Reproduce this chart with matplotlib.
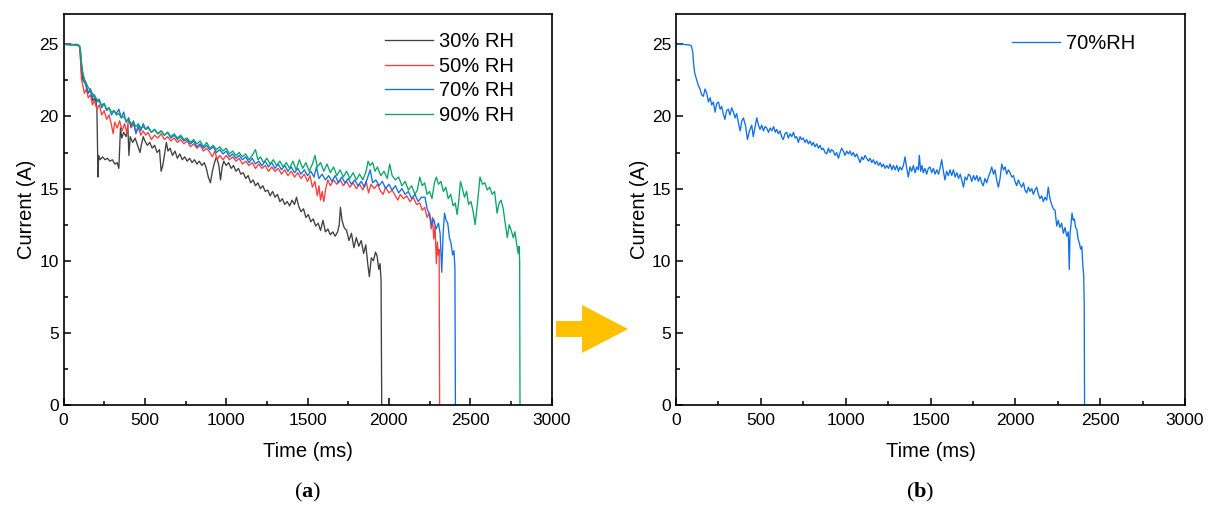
import matplotlib
matplotlib.use("Agg")
import matplotlib.pyplot as plt
from matplotlib.patches import Polygon
from matplotlib.ticker import MultipleLocator

plt.rcParams['font.family'] = ['Liberation Sans', 'DejaVu Sans']
plt.rcParams['mathtext.fontset'] = 'custom'
plt.rcParams['mathtext.rm'] = 'Liberation Serif'
plt.rcParams['mathtext.bf'] = 'Liberation Serif:bold'

### current vs time
t_30 = [0, 40, 80, 98, 104, 110, 120, 135, 150, 165, 180, 195, 205, 212, 216, 225, 240, 255, 270, 285,
        300, 315, 330, 340, 350, 358, 370, 385, 395, 402, 410, 425, 440, 455, 470, 478, 490, 500, 515, 530,
        545, 560, 575, 590, 600, 610, 620, 632, 642, 655, 670, 685, 700, 715, 730, 745, 760, 775, 790, 805,
        820, 835, 850, 865, 878, 890, 903, 915, 928, 940, 955, 965, 975, 985, 1000, 1015, 1030, 1045, 1060, 1075,
        1090, 1105, 1120, 1135, 1150, 1165, 1180, 1195, 1210, 1225, 1240, 1255, 1270, 1285, 1300, 1315, 1330, 1345,
        1360, 1375, 1390, 1405, 1420, 1432, 1445, 1460, 1475, 1490, 1505, 1520, 1535, 1550, 1565, 1580, 1595, 1610,
        1625, 1640, 1655, 1670, 1685, 1695, 1702, 1712, 1725, 1740, 1755, 1770, 1785, 1800, 1815, 1830, 1845, 1858,
        1870, 1880, 1892, 1905, 1918, 1928, 1938, 1946, 1952, 1956]
i_30 = [25.0, 24.95, 25.0, 24.9, 24.2, 23.1, 22.5, 22.3, 21.6, 21.9, 21.1, 21.3, 20.6, 15.8, 17.3, 17.0, 17.2, 17.0, 17.1, 16.9,
        17.0, 16.7, 16.8, 16.4, 19.2, 18.5, 18.9, 18.6, 19.4, 17.3, 18.6, 18.2, 18.5, 18.0, 17.5, 18.0, 18.6, 18.3, 18.0, 18.2,
        17.8, 18.0, 17.5, 17.7, 16.2, 16.6, 17.3, 18.2, 17.6, 17.8, 17.3, 17.6, 17.1, 17.4, 17.0, 17.2, 16.9, 17.1, 16.8, 17.0,
        16.7, 16.9, 16.6, 16.8, 16.4, 15.8, 15.4, 16.2, 16.8, 17.2, 16.6, 15.6, 16.5, 16.9, 16.6, 16.8, 16.4, 16.6, 16.2, 16.4,
        16.0, 16.1, 15.7, 15.9, 15.4, 15.6, 15.2, 15.4, 15.0, 15.2, 14.8, 14.9, 14.5, 14.8, 14.4, 14.6, 14.1, 14.3,
        13.9, 14.1, 13.8, 14.2, 13.9, 14.4, 13.8, 13.4, 13.6, 13.0, 13.2, 12.7, 12.9, 12.4, 12.6, 12.1, 12.8, 12.0,
        12.2, 11.8, 12.0, 11.7, 12.0, 12.5, 13.7, 12.8, 12.3, 12.1, 11.4, 11.9, 10.9, 11.6, 11.0, 11.4, 10.5, 11.1,
        9.8, 8.9, 10.2, 10.0, 10.6, 10.3, 9.4, 9.8, 8.6, 0.0]

t_50 = [0, 40, 80, 98, 104, 110, 118, 128, 140, 152, 165, 178, 190, 205, 220, 235, 250, 265, 280, 295,
        305, 315, 330, 345, 360, 375, 390, 400, 415, 430, 445, 460, 475, 490, 505, 520, 540, 560, 580, 600,
        620, 640, 660, 680, 700, 720, 740, 760, 780, 800, 820, 840, 860, 880, 900, 915, 930, 945, 960, 980,
        1000, 1020, 1040, 1060, 1080, 1100, 1120, 1140, 1160, 1180, 1200, 1220, 1240, 1260, 1280, 1300, 1320, 1340,
        1360, 1380, 1400, 1420, 1440, 1460, 1480, 1500, 1515, 1530, 1545, 1560, 1570, 1580, 1590, 1600, 1612, 1625,
        1640, 1660, 1680, 1700, 1720, 1740, 1760, 1780, 1800, 1820, 1840, 1860, 1875, 1890, 1910, 1930, 1950, 1965,
        1980, 2000, 2020, 2040, 2055, 2070, 2090, 2110, 2130, 2150, 2170, 2190, 2205, 2220, 2235, 2250, 2260, 2268,
        2276, 2284, 2292, 2298, 2304, 2309, 2312]
i_50 = [25.0, 25.0, 24.95, 24.85, 24.0, 22.6, 22.2, 21.6, 21.9, 21.3, 21.5, 20.8, 21.1, 20.5, 20.8, 20.1, 20.4, 19.8, 20.1, 19.4,
        18.8, 19.6, 19.2, 19.7, 19.0, 19.5, 18.8, 19.9, 19.2, 19.5, 18.9, 19.2, 18.7, 19.0, 18.7, 18.9, 18.4, 18.7, 18.5, 18.8,
        18.4, 18.6, 18.3, 18.5, 18.2, 18.4, 18.1, 18.3, 17.9, 18.1, 17.8, 18.0, 17.6, 17.8, 17.5, 17.2, 17.6, 17.0, 17.3, 17.0,
        17.3, 17.0, 17.2, 16.9, 17.1, 16.7, 16.9, 16.6, 16.8, 16.4, 16.7, 16.4, 16.6, 16.2, 16.5, 16.2, 16.4, 16.0,
        16.3, 15.9, 16.2, 15.8, 16.1, 15.7, 16.0, 15.5, 15.9, 15.1, 15.5, 14.5, 15.2, 14.2, 14.8, 14.1, 15.0, 15.6,
        15.2, 15.6, 15.3, 15.6, 15.2, 15.5, 15.1, 15.4, 15.0, 15.3, 14.9, 15.5, 14.7, 15.3, 15.0, 15.3, 14.8, 14.6,
        15.1, 14.7, 14.9, 14.5, 14.2, 14.6, 14.3, 14.5, 14.1, 14.4, 13.9, 14.0, 13.5, 13.7, 13.0, 13.3, 12.2, 13.0,
        11.5, 12.4, 9.8, 11.3, 10.4, 10.8, 0.0]

t_70 = [0, 40, 80, 98, 104, 110, 118, 128, 140, 152, 165, 178, 190, 205, 220, 235, 250, 265, 280, 295,
        310, 325, 340, 355, 370, 385, 400, 415, 430, 445, 460, 475, 490, 505, 520, 540, 560, 580, 600, 620,
        640, 660, 680, 700, 720, 740, 760, 780, 800, 820, 840, 860, 880, 900, 920, 940, 960, 980, 1000, 1020,
        1040, 1060, 1080, 1100, 1120, 1140, 1160, 1180, 1200, 1220, 1240, 1260, 1280, 1300, 1320, 1340, 1360, 1380,
        1400, 1420, 1440, 1460, 1480, 1500, 1520, 1540, 1555, 1570, 1590, 1610, 1630, 1650, 1670, 1690, 1710, 1730,
        1750, 1770, 1790, 1810, 1830, 1850, 1870, 1885, 1900, 1920, 1940, 1960, 1980, 2000, 2020, 2040, 2060, 2080,
        2100, 2120, 2140, 2160, 2180, 2200, 2222, 2235, 2250, 2262, 2275, 2290, 2305, 2315, 2325, 2333, 2342, 2352,
        2362, 2372, 2382, 2392, 2400, 2406, 2409]
i_70 = [25.0, 25.0, 24.95, 24.9, 24.5, 23.6, 22.9, 22.4, 22.1, 21.6, 21.9, 21.3, 21.5, 21.0, 21.2, 20.6, 20.9, 20.4, 20.6, 20.1,
        20.4, 20.2, 20.5, 19.9, 20.3, 19.6, 19.9, 19.3, 19.7, 18.8, 19.4, 19.0, 19.5, 19.1, 19.3, 18.9, 19.1, 18.8, 19.0, 18.7,
        18.9, 18.5, 18.7, 18.4, 18.6, 18.3, 18.4, 18.1, 18.3, 17.9, 18.1, 17.8, 18.0, 17.7, 17.9, 17.5, 17.7, 17.4, 17.6, 17.2,
        17.4, 17.1, 17.3, 17.0, 17.2, 16.8, 17.1, 16.7, 16.9, 16.6, 16.9, 16.5, 16.8, 16.4, 16.7, 16.3, 16.6, 16.2,
        16.5, 16.1, 16.4, 16.0, 16.3, 15.9, 16.2, 15.8, 16.5, 15.7, 16.0, 15.6, 15.9, 15.5, 15.9, 15.4, 15.8, 15.4,
        15.7, 15.3, 15.6, 15.2, 15.5, 15.1, 15.8, 16.3, 15.4, 15.6, 15.2, 15.5, 15.0, 15.3, 14.9, 15.2, 14.7, 15.0,
        14.6, 14.8, 14.3, 14.6, 14.1, 14.4, 14.4, 13.6, 13.2, 12.5, 12.9, 12.2, 12.6, 11.9, 9.2, 11.8, 13.3, 12.8,
        12.6, 11.6, 11.2, 10.4, 10.7, 9.5, 0.0]

t_90 = [0, 40, 80, 98, 104, 110, 118, 128, 140, 152, 165, 178, 190, 205, 220, 235, 250, 265, 280, 295,
        310, 325, 340, 355, 370, 385, 400, 415, 430, 445, 460, 475, 490, 505, 520, 540, 560, 580, 600, 620,
        640, 660, 680, 700, 720, 740, 760, 780, 800, 820, 840, 860, 880, 900, 920, 940, 960, 980, 1000, 1020,
        1040, 1060, 1080, 1100, 1120, 1140, 1160, 1180, 1195, 1210, 1230, 1250, 1270, 1290, 1310, 1330, 1350, 1370,
        1390, 1410, 1430, 1450, 1470, 1490, 1510, 1530, 1546, 1560, 1580, 1600, 1620, 1640, 1660, 1680, 1700, 1720,
        1740, 1760, 1780, 1800, 1820, 1840, 1860, 1872, 1884, 1900, 1915, 1930, 1950, 1970, 1990, 2005, 2020, 2040,
        2060, 2080, 2100, 2120, 2140, 2160, 2175, 2190, 2205, 2220, 2235, 2250, 2265, 2280, 2292, 2305, 2320, 2335,
        2350, 2365, 2380, 2395, 2408, 2420, 2430, 2440, 2452, 2465, 2478, 2490, 2505, 2518, 2530, 2545, 2560, 2575,
        2590, 2605, 2620, 2635, 2650, 2665, 2678, 2690, 2703, 2715, 2728, 2740, 2752, 2765, 2775, 2785, 2795, 2800,
        2804, 2806]
i_90 = [25.0, 25.0, 24.95, 24.9, 24.6, 23.8, 23.1, 22.6, 22.3, 22.0, 21.8, 21.6, 21.4, 21.2, 21.0, 20.8, 20.9, 20.5, 20.6, 20.3,
        20.4, 20.1, 20.2, 19.9, 20.0, 19.7, 19.8, 19.5, 19.6, 19.3, 19.5, 19.2, 19.3, 19.1, 19.2, 18.9, 19.1, 18.8, 19.0, 18.7,
        18.9, 18.6, 18.8, 18.5, 18.7, 18.4, 18.5, 18.2, 18.4, 18.1, 18.3, 17.9, 18.2, 17.8, 18.0, 17.7, 17.9, 17.6, 17.8, 17.4,
        17.6, 17.3, 17.5, 17.2, 17.4, 17.0, 17.3, 17.7, 17.0, 17.2, 16.8, 17.1, 16.7, 17.0, 16.6, 16.9, 16.5, 16.8,
        16.4, 16.9, 16.3, 17.0, 16.4, 16.8, 16.2, 16.7, 17.3, 16.5, 16.8, 16.2, 16.7, 16.1, 16.5, 15.9, 16.3, 15.8,
        16.2, 15.7, 16.1, 15.6, 16.0, 15.6, 16.2, 16.9, 16.6, 16.8, 16.2, 16.5, 15.9, 16.2, 15.7, 16.7, 15.9, 15.6,
        15.8, 15.2, 15.5, 14.9, 15.2, 14.6, 14.9, 15.8, 15.2, 15.4, 14.6, 14.8, 14.3, 15.4, 15.8, 15.3, 15.5, 14.8,
        15.1, 14.3, 14.6, 13.8, 14.0, 13.2, 14.2, 15.5, 15.0, 14.4, 14.8, 13.9, 14.1, 13.4, 12.5, 14.0, 15.8, 15.3,
        15.4, 14.9, 15.1, 14.6, 14.8, 13.3, 14.0, 14.2, 13.6, 12.6, 11.6, 12.5, 12.1, 11.6, 12.0, 11.2, 10.5, 11.0,
        10.0, 0.0]

# panel (b): 70% RH on its own
t_b = [0, 40, 80, 90, 98, 104, 110, 120, 130, 141, 151, 161, 171, 181, 191, 201, 210, 220, 230, 240,
       250, 260, 269, 278, 288, 298, 308, 318, 328, 338, 348, 357, 367, 378, 388, 397, 409, 421, 433, 446,
       455, 466, 476, 486, 495, 505, 515, 525, 534, 545, 555, 565, 575, 585, 593, 603, 613, 622, 632, 642,
       652, 662, 672, 682, 692, 702, 711, 721, 731, 740, 750, 760, 770, 780, 790, 800, 809, 819, 829, 839,
       849, 858, 868, 878, 888, 898, 908, 917, 927, 937, 947, 957, 967, 976, 986, 996, 1006, 1016, 1026, 1035,
       1045, 1055, 1065, 1075, 1085, 1095, 1104, 1114, 1124, 1134, 1144, 1154, 1163, 1173, 1183, 1193, 1203, 1213,
       1222, 1232, 1242, 1252, 1262, 1272, 1281, 1291, 1301, 1311, 1320, 1330, 1340, 1350, 1360, 1369, 1379, 1389,
       1399, 1409, 1419, 1428, 1434, 1442, 1450, 1457, 1467, 1477, 1487, 1497, 1507, 1517, 1527, 1537, 1547, 1556,
       1566, 1576, 1585, 1595, 1605, 1615, 1625, 1635, 1645, 1655, 1665, 1675, 1684, 1694, 1704, 1714, 1724, 1733,
       1743, 1753, 1763, 1773, 1782, 1792, 1802, 1811, 1821, 1831, 1841, 1851, 1861, 1871, 1880, 1890, 1900, 1910,
       1920, 1930, 1940, 1949, 1959, 1969, 1979, 1989, 1998, 2008, 2018, 2028, 2038, 2048, 2057, 2067, 2077, 2087,
       2097, 2106, 2116, 2126, 2136, 2145, 2155, 2165, 2175, 2185, 2194, 2204, 2214, 2224, 2234, 2244, 2253, 2263,
       2273, 2283, 2293, 2303, 2312, 2318, 2322, 2328, 2334, 2341, 2348, 2355, 2362, 2370, 2378, 2385, 2392, 2398,
       2403, 2406, 2408]
i_b = [25.0, 25.0, 24.95, 24.9, 24.5, 23.6, 23.0, 22.6, 22.2, 21.9, 21.5, 21.4, 21.9, 21.6, 21.0, 21.3, 20.8, 21.0, 20.3, 20.9,
       21.0, 20.5, 20.7, 20.2, 19.8, 20.4, 20.5, 20.1, 20.6, 20.3, 19.9, 20.2, 19.6, 19.0, 19.7, 19.9, 19.4, 18.4, 19.0, 19.4,
       18.6, 19.3, 19.9, 19.4, 19.1, 19.4, 19.0, 19.3, 19.2, 18.9, 19.2, 19.0, 19.3, 18.9, 19.1, 18.8, 19.0, 18.6, 18.4, 18.8,
       18.9, 18.5, 18.8, 18.6, 18.9, 18.5, 18.6, 18.2, 18.6, 18.4, 18.5, 18.2, 18.4, 18.1, 18.3, 18.0, 18.2, 17.9, 18.1, 17.8,
       18.0, 17.7, 17.8, 17.5, 17.4, 17.8, 17.5, 17.7, 17.6, 17.3, 17.5, 17.1, 17.5, 17.8, 17.6, 17.3, 17.6, 17.4, 17.6, 17.3,
       17.5, 17.2, 17.4, 17.1, 16.8, 17.2, 17.0, 17.3, 17.1, 16.9, 17.1, 16.8, 17.0, 16.7, 16.9, 16.6, 16.8, 16.5,
       16.7, 16.4, 16.6, 16.4, 16.7, 16.3, 16.6, 16.3, 16.6, 16.2, 16.5, 16.3, 16.6, 17.2, 16.4, 15.8, 16.5, 16.2,
       16.6, 16.1, 16.5, 16.3, 17.3, 16.2, 16.6, 16.1, 16.4, 16.0, 16.4, 16.5, 16.1, 16.4, 16.0, 16.3, 16.0, 16.4,
       17.0, 16.2, 15.6, 16.2, 15.9, 16.3, 15.9, 16.3, 15.8, 16.1, 15.7, 16.0, 15.6, 15.1, 15.8, 15.6, 16.0, 15.9,
       15.5, 15.9, 15.6, 15.9, 15.5, 15.8, 15.4, 15.2, 15.7, 15.4, 15.8, 16.1, 16.5, 16.0, 16.3, 15.6, 15.1, 15.7,
       16.7, 16.3, 16.5, 16.0, 16.3, 16.1, 15.8, 15.9, 15.5, 15.2, 15.6, 15.3, 15.1, 15.4, 14.9, 14.7, 15.1, 14.8,
       15.0, 14.6, 14.9, 15.1, 14.6, 14.3, 14.5, 14.1, 14.4, 14.2, 15.1, 14.3, 13.9, 13.6, 13.5, 12.4, 12.8, 12.3,
       12.6, 11.9, 12.3, 11.7, 12.0, 9.4, 11.8, 12.5, 13.3, 12.8, 12.9, 12.3, 12.2, 11.5, 11.2, 10.8, 11.0, 9.6,
       9.0, 7.0, 0.0]

labels_a = ["30% RH", "50% RH", "70% RH", "90% RH"]
colors_a = ["#404040", "#ff3c3c", "#1070e6", "#0ba56a"]


def style_axes(ax):
    ax.set_xlim(0, 3000)
    ax.set_ylim(0, 27.1)
    ax.xaxis.set_major_locator(MultipleLocator(500))
    ax.xaxis.set_minor_locator(MultipleLocator(250))
    ax.yaxis.set_major_locator(MultipleLocator(5))
    ax.yaxis.set_minor_locator(MultipleLocator(2.5))
    ax.tick_params(which="both", direction="in", top=False, right=False, labelsize=12.5, width=1.1)
    ax.tick_params(which="major", length=5)
    ax.tick_params(which="minor", length=3)
    ax.tick_params(axis="x", pad=6)
    for s in ax.spines.values():
        s.set_linewidth(1.2)
    ax.set_xlabel("Time (ms)", fontsize=14.5, labelpad=10)
    ax.set_ylabel("Current (A)", fontsize=14.5, labelpad=2)


fig = plt.figure(figsize=(12.17, 5.11), dpi=100)
ax1 = fig.add_axes([0.0522, 0.2074, 0.401, 0.7652])
ax2 = fig.add_axes([0.5555, 0.2074, 0.4182, 0.7652])

series = [(t_30, i_30), (t_50, i_50), (t_70, i_70), (t_90, i_90)]
for (t, cur), lab, col in zip(series, labels_a, colors_a):
    ax1.plot(t, cur, color=col, lw=0.95, label=lab)
style_axes(ax1)
ax1.legend(loc="upper left", bbox_to_anchor=(385 / 1217, 1 - 32 / 511), bbox_transform=fig.transFigure,
           frameon=False, fontsize=14.5, handlelength=2.4, handletextpad=0.3, labelspacing=0.28,
           borderpad=0, borderaxespad=0)

ax2.plot(t_b, i_b, color="#1070e6", lw=0.95, label="70%RH")
style_axes(ax2)
ax2.legend(loc="upper left", bbox_to_anchor=(1012 / 1217, 1 - 34 / 511), bbox_transform=fig.transFigure,
           frameon=False, fontsize=14.5, handlelength=2.4, handletextpad=0.3,
           borderpad=0, borderaxespad=0)

# arrow between the panels
arrow_px = [(556, 321), (582, 321), (582, 305), (628, 329), (582, 353), (582, 337), (556, 337)]
arrow = Polygon([(x / 1217, 1 - y / 511) for x, y in arrow_px], closed=True,
                transform=fig.transFigure, facecolor="#ffc000", edgecolor="none")
fig.patches.append(arrow)

fig.text(308 / 1217, 1 - 492 / 511, r"$\mathrm{(}\mathbf{a}\mathrm{)}$", ha="center", va="center", fontsize=16)
fig.text(920 / 1217, 1 - 492 / 511, r"$\mathrm{(}\mathbf{b}\mathrm{)}$", ha="center", va="center", fontsize=16)

fig.savefig("out.png", dpi=100)
